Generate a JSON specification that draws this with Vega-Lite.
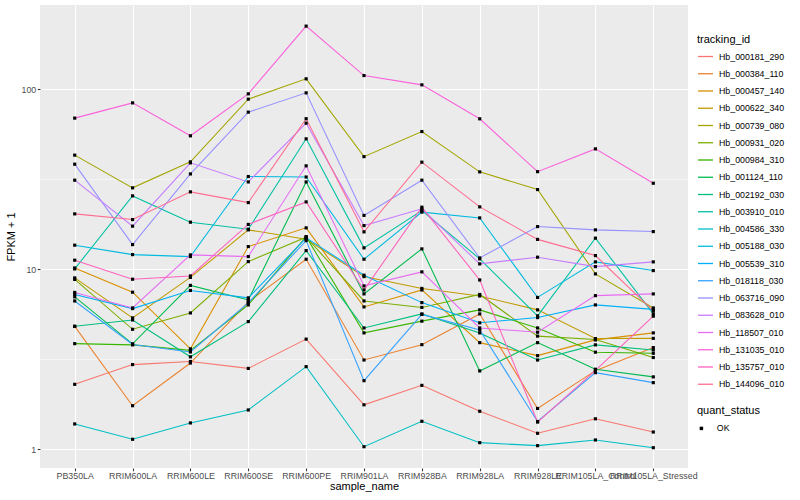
{
"$schema":"https://vega.github.io/schema/vega-lite/v6.json",
"width":648,"height":463,
"autosize":"none",
"padding":{"left":40,"top":5,"right":112,"bottom":32},
"background":"white",
"config":{"view":{"fill":"#EBEBEB","stroke":null},"font":"Liberation Sans",
"axis":{"labelFont":"Liberation Sans","titleFont":"Liberation Sans","labelFontSize":8.8,"labelColor":"#4D4D4D","tickColor":"#333333","tickSize":2.75,"tickWidth":1.07,"domain":false,"gridColor":"#FFFFFF","titleFontSize":11,"titleFontWeight":"normal","titleColor":"#000000"},
"legend":{"labelFont":"Liberation Sans","titleFont":"Liberation Sans","padding":0}},
"datasets":{"expr":[
{"tracking_id":"Hb_000181_290","sample_name":"PB350LA","fpkm":2.30,"quant_status":"OK"},
{"tracking_id":"Hb_000181_290","sample_name":"RRIM600LA","fpkm":2.96,"quant_status":"OK"},
{"tracking_id":"Hb_000181_290","sample_name":"RRIM600LE","fpkm":3.08,"quant_status":"OK"},
{"tracking_id":"Hb_000181_290","sample_name":"RRIM600SE","fpkm":2.82,"quant_status":"OK"},
{"tracking_id":"Hb_000181_290","sample_name":"RRIM600PE","fpkm":4.10,"quant_status":"OK"},
{"tracking_id":"Hb_000181_290","sample_name":"RRIM901LA","fpkm":1.77,"quant_status":"OK"},
{"tracking_id":"Hb_000181_290","sample_name":"RRIM928BA","fpkm":2.27,"quant_status":"OK"},
{"tracking_id":"Hb_000181_290","sample_name":"RRIM928LA","fpkm":1.63,"quant_status":"OK"},
{"tracking_id":"Hb_000181_290","sample_name":"RRIM928LE","fpkm":1.23,"quant_status":"OK"},
{"tracking_id":"Hb_000181_290","sample_name":"RRIM105LA_Control","fpkm":1.48,"quant_status":"OK"},
{"tracking_id":"Hb_000181_290","sample_name":"RRIM105LA_Stressed","fpkm":1.25,"quant_status":"OK"},
{"tracking_id":"Hb_000384_110","sample_name":"PB350LA","fpkm":4.83,"quant_status":"OK"},
{"tracking_id":"Hb_000384_110","sample_name":"RRIM600LA","fpkm":1.75,"quant_status":"OK"},
{"tracking_id":"Hb_000384_110","sample_name":"RRIM600LE","fpkm":3.02,"quant_status":"OK"},
{"tracking_id":"Hb_000384_110","sample_name":"RRIM600SE","fpkm":6.60,"quant_status":"OK"},
{"tracking_id":"Hb_000384_110","sample_name":"RRIM600PE","fpkm":11.39,"quant_status":"OK"},
{"tracking_id":"Hb_000384_110","sample_name":"RRIM901LA","fpkm":3.14,"quant_status":"OK"},
{"tracking_id":"Hb_000384_110","sample_name":"RRIM928BA","fpkm":3.82,"quant_status":"OK"},
{"tracking_id":"Hb_000384_110","sample_name":"RRIM928LA","fpkm":5.66,"quant_status":"OK"},
{"tracking_id":"Hb_000384_110","sample_name":"RRIM928LE","fpkm":1.69,"quant_status":"OK"},
{"tracking_id":"Hb_000384_110","sample_name":"RRIM105LA_Control","fpkm":2.74,"quant_status":"OK"},
{"tracking_id":"Hb_000384_110","sample_name":"RRIM105LA_Stressed","fpkm":3.68,"quant_status":"OK"},
{"tracking_id":"Hb_000457_140","sample_name":"PB350LA","fpkm":10.19,"quant_status":"OK"},
{"tracking_id":"Hb_000457_140","sample_name":"RRIM600LA","fpkm":7.47,"quant_status":"OK"},
{"tracking_id":"Hb_000457_140","sample_name":"RRIM600LE","fpkm":3.62,"quant_status":"OK"},
{"tracking_id":"Hb_000457_140","sample_name":"RRIM600SE","fpkm":13.39,"quant_status":"OK"},
{"tracking_id":"Hb_000457_140","sample_name":"RRIM600PE","fpkm":17.01,"quant_status":"OK"},
{"tracking_id":"Hb_000457_140","sample_name":"RRIM901LA","fpkm":6.19,"quant_status":"OK"},
{"tracking_id":"Hb_000457_140","sample_name":"RRIM928BA","fpkm":7.69,"quant_status":"OK"},
{"tracking_id":"Hb_000457_140","sample_name":"RRIM928LA","fpkm":3.92,"quant_status":"OK"},
{"tracking_id":"Hb_000457_140","sample_name":"RRIM928LE","fpkm":3.32,"quant_status":"OK"},
{"tracking_id":"Hb_000457_140","sample_name":"RRIM105LA_Control","fpkm":4.06,"quant_status":"OK"},
{"tracking_id":"Hb_000457_140","sample_name":"RRIM105LA_Stressed","fpkm":4.44,"quant_status":"OK"},
{"tracking_id":"Hb_000622_340","sample_name":"PB350LA","fpkm":8.97,"quant_status":"OK"},
{"tracking_id":"Hb_000622_340","sample_name":"RRIM600LA","fpkm":5.38,"quant_status":"OK"},
{"tracking_id":"Hb_000622_340","sample_name":"RRIM600LE","fpkm":9.03,"quant_status":"OK"},
{"tracking_id":"Hb_000622_340","sample_name":"RRIM600SE","fpkm":16.58,"quant_status":"OK"},
{"tracking_id":"Hb_000622_340","sample_name":"RRIM600PE","fpkm":14.72,"quant_status":"OK"},
{"tracking_id":"Hb_000622_340","sample_name":"RRIM901LA","fpkm":9.12,"quant_status":"OK"},
{"tracking_id":"Hb_000622_340","sample_name":"RRIM928BA","fpkm":7.84,"quant_status":"OK"},
{"tracking_id":"Hb_000622_340","sample_name":"RRIM928LA","fpkm":7.12,"quant_status":"OK"},
{"tracking_id":"Hb_000622_340","sample_name":"RRIM928LE","fpkm":5.96,"quant_status":"OK"},
{"tracking_id":"Hb_000622_340","sample_name":"RRIM105LA_Control","fpkm":4.13,"quant_status":"OK"},
{"tracking_id":"Hb_000622_340","sample_name":"RRIM105LA_Stressed","fpkm":4.14,"quant_status":"OK"},
{"tracking_id":"Hb_000739_080","sample_name":"PB350LA","fpkm":43.1,"quant_status":"OK"},
{"tracking_id":"Hb_000739_080","sample_name":"RRIM600LA","fpkm":28.37,"quant_status":"OK"},
{"tracking_id":"Hb_000739_080","sample_name":"RRIM600LE","fpkm":39.56,"quant_status":"OK"},
{"tracking_id":"Hb_000739_080","sample_name":"RRIM600SE","fpkm":88.2,"quant_status":"OK"},
{"tracking_id":"Hb_000739_080","sample_name":"RRIM600PE","fpkm":114.4,"quant_status":"OK"},
{"tracking_id":"Hb_000739_080","sample_name":"RRIM901LA","fpkm":42.3,"quant_status":"OK"},
{"tracking_id":"Hb_000739_080","sample_name":"RRIM928BA","fpkm":58.3,"quant_status":"OK"},
{"tracking_id":"Hb_000739_080","sample_name":"RRIM928LA","fpkm":34.8,"quant_status":"OK"},
{"tracking_id":"Hb_000739_080","sample_name":"RRIM928LE","fpkm":27.76,"quant_status":"OK"},
{"tracking_id":"Hb_000739_080","sample_name":"RRIM105LA_Control","fpkm":9.44,"quant_status":"OK"},
{"tracking_id":"Hb_000739_080","sample_name":"RRIM105LA_Stressed","fpkm":6.11,"quant_status":"OK"},
{"tracking_id":"Hb_000931_020","sample_name":"PB350LA","fpkm":8.80,"quant_status":"OK"},
{"tracking_id":"Hb_000931_020","sample_name":"RRIM600LA","fpkm":4.65,"quant_status":"OK"},
{"tracking_id":"Hb_000931_020","sample_name":"RRIM600LE","fpkm":5.73,"quant_status":"OK"},
{"tracking_id":"Hb_000931_020","sample_name":"RRIM600SE","fpkm":11.05,"quant_status":"OK"},
{"tracking_id":"Hb_000931_020","sample_name":"RRIM600PE","fpkm":15.10,"quant_status":"OK"},
{"tracking_id":"Hb_000931_020","sample_name":"RRIM901LA","fpkm":6.68,"quant_status":"OK"},
{"tracking_id":"Hb_000931_020","sample_name":"RRIM928BA","fpkm":6.15,"quant_status":"OK"},
{"tracking_id":"Hb_000931_020","sample_name":"RRIM928LA","fpkm":7.26,"quant_status":"OK"},
{"tracking_id":"Hb_000931_020","sample_name":"RRIM928LE","fpkm":4.26,"quant_status":"OK"},
{"tracking_id":"Hb_000931_020","sample_name":"RRIM105LA_Control","fpkm":4.08,"quant_status":"OK"},
{"tracking_id":"Hb_000931_020","sample_name":"RRIM105LA_Stressed","fpkm":3.24,"quant_status":"OK"},
{"tracking_id":"Hb_000984_310","sample_name":"PB350LA","fpkm":3.87,"quant_status":"OK"},
{"tracking_id":"Hb_000984_310","sample_name":"RRIM600LA","fpkm":3.81,"quant_status":"OK"},
{"tracking_id":"Hb_000984_310","sample_name":"RRIM600LE","fpkm":3.55,"quant_status":"OK"},
{"tracking_id":"Hb_000984_310","sample_name":"RRIM600SE","fpkm":6.35,"quant_status":"OK"},
{"tracking_id":"Hb_000984_310","sample_name":"RRIM600PE","fpkm":15.21,"quant_status":"OK"},
{"tracking_id":"Hb_000984_310","sample_name":"RRIM901LA","fpkm":4.44,"quant_status":"OK"},
{"tracking_id":"Hb_000984_310","sample_name":"RRIM928BA","fpkm":5.16,"quant_status":"OK"},
{"tracking_id":"Hb_000984_310","sample_name":"RRIM928LA","fpkm":5.96,"quant_status":"OK"},
{"tracking_id":"Hb_000984_310","sample_name":"RRIM928LE","fpkm":4.73,"quant_status":"OK"},
{"tracking_id":"Hb_000984_310","sample_name":"RRIM105LA_Control","fpkm":3.47,"quant_status":"OK"},
{"tracking_id":"Hb_000984_310","sample_name":"RRIM105LA_Stressed","fpkm":3.42,"quant_status":"OK"},
{"tracking_id":"Hb_001124_110","sample_name":"PB350LA","fpkm":7.04,"quant_status":"OK"},
{"tracking_id":"Hb_001124_110","sample_name":"RRIM600LA","fpkm":3.86,"quant_status":"OK"},
{"tracking_id":"Hb_001124_110","sample_name":"RRIM600LE","fpkm":8.15,"quant_status":"OK"},
{"tracking_id":"Hb_001124_110","sample_name":"RRIM600SE","fpkm":6.77,"quant_status":"OK"},
{"tracking_id":"Hb_001124_110","sample_name":"RRIM600PE","fpkm":30.6,"quant_status":"OK"},
{"tracking_id":"Hb_001124_110","sample_name":"RRIM901LA","fpkm":7.31,"quant_status":"OK"},
{"tracking_id":"Hb_001124_110","sample_name":"RRIM928BA","fpkm":13.0,"quant_status":"OK"},
{"tracking_id":"Hb_001124_110","sample_name":"RRIM928LA","fpkm":2.73,"quant_status":"OK"},
{"tracking_id":"Hb_001124_110","sample_name":"RRIM928LE","fpkm":3.92,"quant_status":"OK"},
{"tracking_id":"Hb_001124_110","sample_name":"RRIM105LA_Control","fpkm":2.79,"quant_status":"OK"},
{"tracking_id":"Hb_001124_110","sample_name":"RRIM105LA_Stressed","fpkm":2.53,"quant_status":"OK"},
{"tracking_id":"Hb_002192_030","sample_name":"PB350LA","fpkm":4.83,"quant_status":"OK"},
{"tracking_id":"Hb_002192_030","sample_name":"RRIM600LA","fpkm":5.24,"quant_status":"OK"},
{"tracking_id":"Hb_002192_030","sample_name":"RRIM600LE","fpkm":3.27,"quant_status":"OK"},
{"tracking_id":"Hb_002192_030","sample_name":"RRIM600SE","fpkm":5.13,"quant_status":"OK"},
{"tracking_id":"Hb_002192_030","sample_name":"RRIM600PE","fpkm":12.72,"quant_status":"OK"},
{"tracking_id":"Hb_002192_030","sample_name":"RRIM901LA","fpkm":4.73,"quant_status":"OK"},
{"tracking_id":"Hb_002192_030","sample_name":"RRIM928BA","fpkm":5.66,"quant_status":"OK"},
{"tracking_id":"Hb_002192_030","sample_name":"RRIM928LA","fpkm":4.44,"quant_status":"OK"},
{"tracking_id":"Hb_002192_030","sample_name":"RRIM928LE","fpkm":3.14,"quant_status":"OK"},
{"tracking_id":"Hb_002192_030","sample_name":"RRIM105LA_Control","fpkm":3.81,"quant_status":"OK"},
{"tracking_id":"Hb_002192_030","sample_name":"RRIM105LA_Stressed","fpkm":3.57,"quant_status":"OK"},
{"tracking_id":"Hb_003910_010","sample_name":"PB350LA","fpkm":10.06,"quant_status":"OK"},
{"tracking_id":"Hb_003910_010","sample_name":"RRIM600LA","fpkm":25.6,"quant_status":"OK"},
{"tracking_id":"Hb_003910_010","sample_name":"RRIM600LE","fpkm":18.29,"quant_status":"OK"},
{"tracking_id":"Hb_003910_010","sample_name":"RRIM600SE","fpkm":16.72,"quant_status":"OK"},
{"tracking_id":"Hb_003910_010","sample_name":"RRIM600PE","fpkm":53.1,"quant_status":"OK"},
{"tracking_id":"Hb_003910_010","sample_name":"RRIM901LA","fpkm":13.17,"quant_status":"OK"},
{"tracking_id":"Hb_003910_010","sample_name":"RRIM928BA","fpkm":21.2,"quant_status":"OK"},
{"tracking_id":"Hb_003910_010","sample_name":"RRIM928LA","fpkm":11.44,"quant_status":"OK"},
{"tracking_id":"Hb_003910_010","sample_name":"RRIM928LE","fpkm":5.52,"quant_status":"OK"},
{"tracking_id":"Hb_003910_010","sample_name":"RRIM105LA_Control","fpkm":14.91,"quant_status":"OK"},
{"tracking_id":"Hb_003910_010","sample_name":"RRIM105LA_Stressed","fpkm":5.66,"quant_status":"OK"},
{"tracking_id":"Hb_004586_330","sample_name":"PB350LA","fpkm":1.386,"quant_status":"OK"},
{"tracking_id":"Hb_004586_330","sample_name":"RRIM600LA","fpkm":1.139,"quant_status":"OK"},
{"tracking_id":"Hb_004586_330","sample_name":"RRIM600LE","fpkm":1.404,"quant_status":"OK"},
{"tracking_id":"Hb_004586_330","sample_name":"RRIM600SE","fpkm":1.657,"quant_status":"OK"},
{"tracking_id":"Hb_004586_330","sample_name":"RRIM600PE","fpkm":2.884,"quant_status":"OK"},
{"tracking_id":"Hb_004586_330","sample_name":"RRIM901LA","fpkm":1.036,"quant_status":"OK"},
{"tracking_id":"Hb_004586_330","sample_name":"RRIM928BA","fpkm":1.434,"quant_status":"OK"},
{"tracking_id":"Hb_004586_330","sample_name":"RRIM928LA","fpkm":1.091,"quant_status":"OK"},
{"tracking_id":"Hb_004586_330","sample_name":"RRIM928LE","fpkm":1.050,"quant_status":"OK"},
{"tracking_id":"Hb_004586_330","sample_name":"RRIM105LA_Control","fpkm":1.129,"quant_status":"OK"},
{"tracking_id":"Hb_004586_330","sample_name":"RRIM105LA_Stressed","fpkm":1.023,"quant_status":"OK"},
{"tracking_id":"Hb_005188_030","sample_name":"PB350LA","fpkm":13.63,"quant_status":"OK"},
{"tracking_id":"Hb_005188_030","sample_name":"RRIM600LA","fpkm":12.08,"quant_status":"OK"},
{"tracking_id":"Hb_005188_030","sample_name":"RRIM600LE","fpkm":11.78,"quant_status":"OK"},
{"tracking_id":"Hb_005188_030","sample_name":"RRIM600SE","fpkm":32.8,"quant_status":"OK"},
{"tracking_id":"Hb_005188_030","sample_name":"RRIM600PE","fpkm":32.6,"quant_status":"OK"},
{"tracking_id":"Hb_005188_030","sample_name":"RRIM901LA","fpkm":11.39,"quant_status":"OK"},
{"tracking_id":"Hb_005188_030","sample_name":"RRIM928BA","fpkm":20.8,"quant_status":"OK"},
{"tracking_id":"Hb_005188_030","sample_name":"RRIM928LA","fpkm":19.32,"quant_status":"OK"},
{"tracking_id":"Hb_005188_030","sample_name":"RRIM928LE","fpkm":6.99,"quant_status":"OK"},
{"tracking_id":"Hb_005188_030","sample_name":"RRIM105LA_Control","fpkm":11.01,"quant_status":"OK"},
{"tracking_id":"Hb_005188_030","sample_name":"RRIM105LA_Stressed","fpkm":9.85,"quant_status":"OK"},
{"tracking_id":"Hb_005539_310","sample_name":"PB350LA","fpkm":7.26,"quant_status":"OK"},
{"tracking_id":"Hb_005539_310","sample_name":"RRIM600LA","fpkm":6.06,"quant_status":"OK"},
{"tracking_id":"Hb_005539_310","sample_name":"RRIM600LE","fpkm":7.64,"quant_status":"OK"},
{"tracking_id":"Hb_005539_310","sample_name":"RRIM600SE","fpkm":6.95,"quant_status":"OK"},
{"tracking_id":"Hb_005539_310","sample_name":"RRIM600PE","fpkm":14.96,"quant_status":"OK"},
{"tracking_id":"Hb_005539_310","sample_name":"RRIM901LA","fpkm":9.29,"quant_status":"OK"},
{"tracking_id":"Hb_005539_310","sample_name":"RRIM928BA","fpkm":6.54,"quant_status":"OK"},
{"tracking_id":"Hb_005539_310","sample_name":"RRIM928LA","fpkm":5.05,"quant_status":"OK"},
{"tracking_id":"Hb_005539_310","sample_name":"RRIM928LE","fpkm":5.40,"quant_status":"OK"},
{"tracking_id":"Hb_005539_310","sample_name":"RRIM105LA_Control","fpkm":6.35,"quant_status":"OK"},
{"tracking_id":"Hb_005539_310","sample_name":"RRIM105LA_Stressed","fpkm":6.00,"quant_status":"OK"},
{"tracking_id":"Hb_018118_030","sample_name":"PB350LA","fpkm":6.68,"quant_status":"OK"},
{"tracking_id":"Hb_018118_030","sample_name":"RRIM600LA","fpkm":3.83,"quant_status":"OK"},
{"tracking_id":"Hb_018118_030","sample_name":"RRIM600LE","fpkm":3.48,"quant_status":"OK"},
{"tracking_id":"Hb_018118_030","sample_name":"RRIM600SE","fpkm":6.51,"quant_status":"OK"},
{"tracking_id":"Hb_018118_030","sample_name":"RRIM600PE","fpkm":14.45,"quant_status":"OK"},
{"tracking_id":"Hb_018118_030","sample_name":"RRIM901LA","fpkm":2.41,"quant_status":"OK"},
{"tracking_id":"Hb_018118_030","sample_name":"RRIM928BA","fpkm":5.62,"quant_status":"OK"},
{"tracking_id":"Hb_018118_030","sample_name":"RRIM928LA","fpkm":4.61,"quant_status":"OK"},
{"tracking_id":"Hb_018118_030","sample_name":"RRIM928LE","fpkm":1.43,"quant_status":"OK"},
{"tracking_id":"Hb_018118_030","sample_name":"RRIM105LA_Control","fpkm":2.67,"quant_status":"OK"},
{"tracking_id":"Hb_018118_030","sample_name":"RRIM105LA_Stressed","fpkm":2.35,"quant_status":"OK"},
{"tracking_id":"Hb_063716_090","sample_name":"PB350LA","fpkm":38.4,"quant_status":"OK"},
{"tracking_id":"Hb_063716_090","sample_name":"RRIM600LA","fpkm":13.73,"quant_status":"OK"},
{"tracking_id":"Hb_063716_090","sample_name":"RRIM600LE","fpkm":33.9,"quant_status":"OK"},
{"tracking_id":"Hb_063716_090","sample_name":"RRIM600SE","fpkm":74.7,"quant_status":"OK"},
{"tracking_id":"Hb_063716_090","sample_name":"RRIM600PE","fpkm":95.6,"quant_status":"OK"},
{"tracking_id":"Hb_063716_090","sample_name":"RRIM901LA","fpkm":19.95,"quant_status":"OK"},
{"tracking_id":"Hb_063716_090","sample_name":"RRIM928BA","fpkm":31.3,"quant_status":"OK"},
{"tracking_id":"Hb_063716_090","sample_name":"RRIM928LA","fpkm":11.58,"quant_status":"OK"},
{"tracking_id":"Hb_063716_090","sample_name":"RRIM928LE","fpkm":17.29,"quant_status":"OK"},
{"tracking_id":"Hb_063716_090","sample_name":"RRIM105LA_Control","fpkm":16.58,"quant_status":"OK"},
{"tracking_id":"Hb_063716_090","sample_name":"RRIM105LA_Stressed","fpkm":16.22,"quant_status":"OK"},
{"tracking_id":"Hb_083628_010","sample_name":"PB350LA","fpkm":31.3,"quant_status":"OK"},
{"tracking_id":"Hb_083628_010","sample_name":"RRIM600LA","fpkm":17.38,"quant_status":"OK"},
{"tracking_id":"Hb_083628_010","sample_name":"RRIM600LE","fpkm":39.06,"quant_status":"OK"},
{"tracking_id":"Hb_083628_010","sample_name":"RRIM600SE","fpkm":30.6,"quant_status":"OK"},
{"tracking_id":"Hb_083628_010","sample_name":"RRIM600PE","fpkm":64.9,"quant_status":"OK"},
{"tracking_id":"Hb_083628_010","sample_name":"RRIM901LA","fpkm":17.51,"quant_status":"OK"},
{"tracking_id":"Hb_083628_010","sample_name":"RRIM928BA","fpkm":21.7,"quant_status":"OK"},
{"tracking_id":"Hb_083628_010","sample_name":"RRIM928LA","fpkm":10.73,"quant_status":"OK"},
{"tracking_id":"Hb_083628_010","sample_name":"RRIM928LE","fpkm":11.69,"quant_status":"OK"},
{"tracking_id":"Hb_083628_010","sample_name":"RRIM105LA_Control","fpkm":10.36,"quant_status":"OK"},
{"tracking_id":"Hb_083628_010","sample_name":"RRIM105LA_Stressed","fpkm":11.01,"quant_status":"OK"},
{"tracking_id":"Hb_118507_010","sample_name":"PB350LA","fpkm":7.45,"quant_status":"OK"},
{"tracking_id":"Hb_118507_010","sample_name":"RRIM600LA","fpkm":6.11,"quant_status":"OK"},
{"tracking_id":"Hb_118507_010","sample_name":"RRIM600LE","fpkm":12.04,"quant_status":"OK"},
{"tracking_id":"Hb_118507_010","sample_name":"RRIM600SE","fpkm":11.78,"quant_status":"OK"},
{"tracking_id":"Hb_118507_010","sample_name":"RRIM600PE","fpkm":37.6,"quant_status":"OK"},
{"tracking_id":"Hb_118507_010","sample_name":"RRIM901LA","fpkm":8.10,"quant_status":"OK"},
{"tracking_id":"Hb_118507_010","sample_name":"RRIM928BA","fpkm":9.69,"quant_status":"OK"},
{"tracking_id":"Hb_118507_010","sample_name":"RRIM928LA","fpkm":4.73,"quant_status":"OK"},
{"tracking_id":"Hb_118507_010","sample_name":"RRIM928LE","fpkm":4.48,"quant_status":"OK"},
{"tracking_id":"Hb_118507_010","sample_name":"RRIM105LA_Control","fpkm":7.15,"quant_status":"OK"},
{"tracking_id":"Hb_118507_010","sample_name":"RRIM105LA_Stressed","fpkm":7.31,"quant_status":"OK"},
{"tracking_id":"Hb_131035_010","sample_name":"PB350LA","fpkm":69.2,"quant_status":"OK"},
{"tracking_id":"Hb_131035_010","sample_name":"RRIM600LA","fpkm":84.1,"quant_status":"OK"},
{"tracking_id":"Hb_131035_010","sample_name":"RRIM600LE","fpkm":55.2,"quant_status":"OK"},
{"tracking_id":"Hb_131035_010","sample_name":"RRIM600SE","fpkm":94.4,"quant_status":"OK"},
{"tracking_id":"Hb_131035_010","sample_name":"RRIM600PE","fpkm":224.4,"quant_status":"OK"},
{"tracking_id":"Hb_131035_010","sample_name":"RRIM901LA","fpkm":119.3,"quant_status":"OK"},
{"tracking_id":"Hb_131035_010","sample_name":"RRIM928BA","fpkm":105.9,"quant_status":"OK"},
{"tracking_id":"Hb_131035_010","sample_name":"RRIM928LA","fpkm":68.6,"quant_status":"OK"},
{"tracking_id":"Hb_131035_010","sample_name":"RRIM928LE","fpkm":34.9,"quant_status":"OK"},
{"tracking_id":"Hb_131035_010","sample_name":"RRIM105LA_Control","fpkm":46.7,"quant_status":"OK"},
{"tracking_id":"Hb_131035_010","sample_name":"RRIM105LA_Stressed","fpkm":30.1,"quant_status":"OK"},
{"tracking_id":"Hb_135757_010","sample_name":"PB350LA","fpkm":11.25,"quant_status":"OK"},
{"tracking_id":"Hb_135757_010","sample_name":"RRIM600LA","fpkm":8.82,"quant_status":"OK"},
{"tracking_id":"Hb_135757_010","sample_name":"RRIM600LE","fpkm":9.20,"quant_status":"OK"},
{"tracking_id":"Hb_135757_010","sample_name":"RRIM600SE","fpkm":17.78,"quant_status":"OK"},
{"tracking_id":"Hb_135757_010","sample_name":"RRIM600PE","fpkm":23.71,"quant_status":"OK"},
{"tracking_id":"Hb_135757_010","sample_name":"RRIM901LA","fpkm":7.69,"quant_status":"OK"},
{"tracking_id":"Hb_135757_010","sample_name":"RRIM928BA","fpkm":22.16,"quant_status":"OK"},
{"tracking_id":"Hb_135757_010","sample_name":"RRIM928LA","fpkm":8.74,"quant_status":"OK"},
{"tracking_id":"Hb_135757_010","sample_name":"RRIM928LE","fpkm":1.42,"quant_status":"OK"},
{"tracking_id":"Hb_135757_010","sample_name":"RRIM105LA_Control","fpkm":2.75,"quant_status":"OK"},
{"tracking_id":"Hb_135757_010","sample_name":"RRIM105LA_Stressed","fpkm":5.50,"quant_status":"OK"},
{"tracking_id":"Hb_144096_010","sample_name":"PB350LA","fpkm":20.34,"quant_status":"OK"},
{"tracking_id":"Hb_144096_010","sample_name":"RRIM600LA","fpkm":18.91,"quant_status":"OK"},
{"tracking_id":"Hb_144096_010","sample_name":"RRIM600LE","fpkm":26.95,"quant_status":"OK"},
{"tracking_id":"Hb_144096_010","sample_name":"RRIM600SE","fpkm":23.50,"quant_status":"OK"},
{"tracking_id":"Hb_144096_010","sample_name":"RRIM600PE","fpkm":68.7,"quant_status":"OK"},
{"tracking_id":"Hb_144096_010","sample_name":"RRIM901LA","fpkm":16.16,"quant_status":"OK"},
{"tracking_id":"Hb_144096_010","sample_name":"RRIM928BA","fpkm":39.4,"quant_status":"OK"},
{"tracking_id":"Hb_144096_010","sample_name":"RRIM928LA","fpkm":22.25,"quant_status":"OK"},
{"tracking_id":"Hb_144096_010","sample_name":"RRIM928LE","fpkm":14.68,"quant_status":"OK"},
{"tracking_id":"Hb_144096_010","sample_name":"RRIM105LA_Control","fpkm":11.93,"quant_status":"OK"},
{"tracking_id":"Hb_144096_010","sample_name":"RRIM105LA_Stressed","fpkm":5.88,"quant_status":"OK"}
]},
"data":{"name":"expr"},
"encoding":{
"x":{"field":"sample_name","type":"nominal","title":"sample_name",
"sort":["PB350LA","RRIM600LA","RRIM600LE","RRIM600SE","RRIM600PE","RRIM901LA","RRIM928BA","RRIM928LA","RRIM928LE","RRIM105LA_Control","RRIM105LA_Stressed"],
"scale":{"type":"point","padding":0.6},
"axis":{"labelAngle":0,"labelOverlap":false,"labelBound":false,"grid":true,"gridWidth":1.07,"labelPadding":0.5,"titlePadding":0}},
"y":{"field":"fpkm","type":"quantitative","title":"FPKM + 1",
"scale":{"type":"log","domain":[0.789,294],"nice":false,"zero":false}}
},
"layer":[
{"mark":{"type":"line","strokeWidth":1.07},
"encoding":{
"y":{"field":"fpkm","type":"quantitative","title":"FPKM + 1","scale":{"type":"log","domain":[0.789,294],"nice":false,"zero":false},
"axis":{"values":[1,10,100],"format":"~g","grid":true,"gridWidth":1.07,"labelPadding":1.5,"titlePadding":5}},
"color":{"field":"tracking_id","type":"nominal",
"scale":{"range":["#F8766D","#EA8331","#D89000","#C09B00","#A3A500","#7CAE00","#39B600","#00BB4E","#00BF7D","#00C1A3","#00BFC4","#00BAE0","#00B0F6","#35A2FF","#9590FF","#C77CFF","#E76BF3","#FA62DB","#FF62BC","#FF6C91"]},
"legend":{"orient":"none","legendX":657,"legendY":29,"title":"tracking_id","titleFontSize":11,"titleFontWeight":"normal","titleColor":"#000000","titlePadding":3,"labelFontSize":8.8,"labelColor":"#000000","symbolType":"stroke","symbolStrokeWidth":1.3,"symbolSize":225,"rowPadding":3.25,"labelOffset":5}}
}},
{"mark":{"type":"point","filled":true,"shape":"square","size":10,"opacity":1},
"encoding":{
"y":{"field":"fpkm","type":"quantitative","scale":{"type":"log","domain":[0.789,294],"nice":false,"zero":false},
"axis":{"orient":"left","values":[3.1623,31.623],"grid":true,"gridWidth":0.53,"labels":false,"ticks":false,"title":null,"domain":false}},
"color":{"value":"#000000"},
"shape":{"field":"quant_status","type":"nominal","scale":{"range":["square"]},
"legend":{"orient":"none","legendX":657,"legendY":400,"title":"quant_status","titleFontSize":11,"titleFontWeight":"normal","titleColor":"#000000","titlePadding":8,"labelFontSize":8.8,"labelColor":"#000000","symbolFillColor":"#000000","symbolStrokeColor":"#000000","symbolSize":12,"labelOffset":11}}
}}
],
"resolve":{"axis":{"y":"independent"}}
}
